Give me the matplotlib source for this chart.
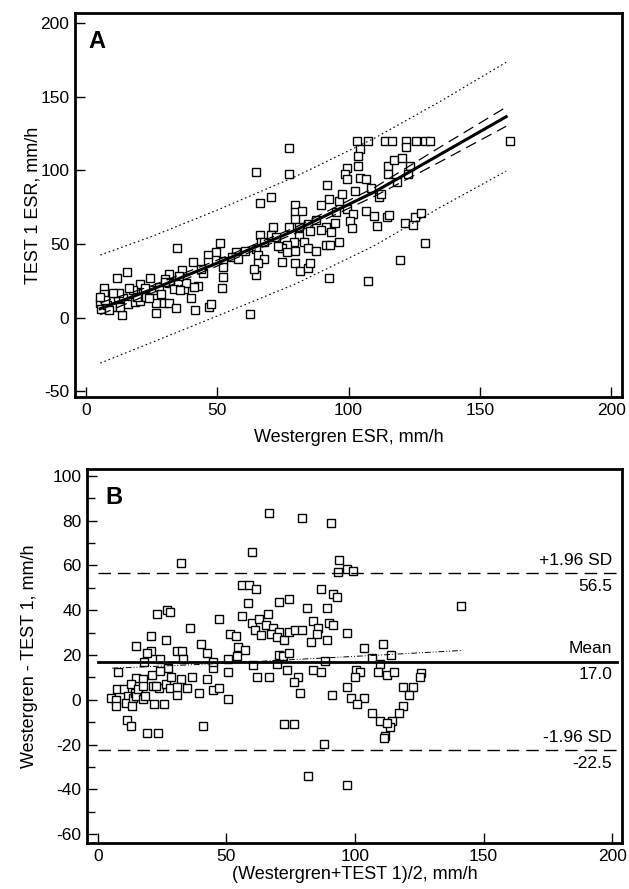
import matplotlib
matplotlib.use("Agg")
import matplotlib.pyplot as plt
from matplotlib.ticker import MultipleLocator

plt.rcParams['font.family'] = ['Liberation Sans', 'DejaVu Sans']
plt.rcParams['axes.unicode_minus'] = False

# ---------------- Panel A data: Westergren ESR vs TEST 1 ESR ----------------
a_x = [103.2, 107.5, 114, 116.6, 122, 125.7, 129.2, 131.2, 161.5, 104.5, 103.8, 122, 77.4,
       64.8, 77.4, 99.3, 103.6, 98.6, 99.3, 104.5, 106.8, 114.9, 117.5, 120.4, 114.9, 123.4,
       122.7, 111.6, 91.7, 92.5, 89.5, 96.4, 66.5, 70.6, 79.5, 79.5, 82.4, 79.5, 95.1, 99.3,
       101.9, 106.8, 109.7, 100.6, 101.5, 110.7, 114.6, 115.6, 94.7, 91.5, 89.5, 71.3, 77.4,
       81.1, 84.7, 85.2, 81.1, 83, 84.7, 79.1, 79.8, 76.5, 74.5, 73.2, 76.5, 74.5, 79.8, 81.7,
       84.7, 85.2, 91.5, 92.8, 96.4, 92.5, 107.4, 119.5, 129.2, 121.4, 124.7, 125.3, 127.5,
       66.5, 66.7, 68, 64.8, 65.4, 68, 65.7, 64.8, 62.6, 57, 52.4, 52.4, 52.4, 51.8, 50.9, 49.6,
       46.6, 46.6, 40.7, 34.8, 42.6, 40, 41.7, 46.9, 47.8, 15.7, 11.7, 24.4, 31.8, 30.3, 36.8,
       20.5, 17.9, 6.8, 6.8, 11.8, 14, 21.8, 25.7, 27.7, 32.2, 33.5, 37.2, 38.1, 41.3, 26.6,
       29.6, 31.8, 34.4, 26.6, 13.6, 5.5, 5.8, 9.4, 10.1, 13.1, 16, 18.6, 20.5, 23.1, 8.1,
       7.5, 12.5, 19.5, 22.5, 28.5, 35.5, 44.5, 55.5, 60.5, 70.5, 87.5, 93.5, 97.5, 102.5,
       108.5, 112.5, 118.5, 64, 58, 87.5, 72.5, 9, 16.5, 24, 30, 36, 44, 5.5, 10.5]
a_y = [119.8, 119.8, 119.8, 119.8, 119.8, 119.8, 119.8, 119.8, 119.8, 114.8, 109.5, 115.9, 115.5,
       98.9, 97.7, 101.8, 103, 97.7, 93.9, 95, 94.3, 103, 106.8, 108.6, 97.7, 103,
       97.7, 81.8, 89.8, 80.7, 76.6, 79.1, 78, 81.8, 76.6, 71.6, 72.7, 67, 71.6, 73.9,
       70.5, 72.7, 69.3, 65.9, 60.9, 62, 68.2, 69.8, 64.1, 61.4, 59.8, 61.8, 61.8,
       61.4, 63.6, 58.6, 55.7, 51.1, 47, 51.1, 45.5, 49.3, 47, 48.9, 44.3, 38, 37, 31.8,
       34, 37, 49.5, 49.5, 51.6, 26.8, 25, 39.1, 50.5, 64.3, 63.2, 68.2, 70.9,
       56.1, 51.6, 51.1, 46.6, 42.5, 39.8, 37, 28.9, 2.3, 44.8, 38.6, 34.1, 27.3, 19.8, 50.5, 44.8,
       42.5, 38, 38, 47, 21.6, 13.2, 5, 7.5, 9.1, 31.1, 26.8, 26.8, 29.5, 26.1, 32.5,
       22.7, 18.6, 19.8, 15.9, 14.3, 13, 16.4, 18.6, 21.1, 23.4, 19.3, 19.3, 23.4, 21.1, 10.2,
       9.8, 10.2, 6.8, 3, 1.8, 9.8, 6.1, 11.4, 7.5, 7.3, 9.5, 10.7, 11.4, 14.3, 8.4,
       12, 16.5, 14, 20, 16, 28, 30, 41, 45, 56, 66, 58, 84, 86,
       88, 84, 92, 33, 40, 45, 55, 5, 20, 13, 24, 19, 33, 14, 17]

# regression curve, 95% CI (dashed) and prediction limits (dotted)
fit_x = [5.5, 25, 50, 80, 110, 135, 160]
fit_y = [6, 19, 37, 59.5, 85.5, 111, 136.5]
ci_hi = [10, 21.5, 39, 61.5, 88.5, 116, 143]
ci_lo = [2, 16.5, 35, 57.5, 82.5, 106, 130]
pi_hi = [42.5, 55, 73, 96, 122, 147, 173.5]
pi_lo = [-31, -17, 1, 23, 49, 75, 99.5]

# ---------------- Panel B data: Bland-Altman ----------------
b_x = [66.4, 79.5, 90.5, 60, 32.2, 93.8, 93.3, 96.9, 99.3, 141.2, 56.2, 58.9, 61.6, 86.6, 91.5,
       92.9, 58.4, 70.5, 74.4, 81.5, 89.3, 23.1, 26.8, 28.2, 47, 35.8, 56.2, 66, 60, 62.7,
       61.3, 63.3, 65.4, 68, 67.4, 70.5, 69.7, 72.3, 74.5, 76.8, 79.5, 83.5, 85.5, 85.2,
       82.8, 89.8, 91.5, 89.3, 96.9, 51.3, 53.7, 40.1, 20.8, 26.4, 15, 20.8, 19.1, 30.9,
       32.9, 42.5, 54.4, 57.1, 54.2, 110.7, 103.4, 114.1, 106.7, 109.9, 70.5, 72.1, 74.4,
       88.5, 18.1, 24, 27.1, 33.2, 44.6, 44.9, 50.6, 60.4, 69.8, 7.7, 15, 17.7, 21.1, 24,
       21.5, 23.8, 26.4, 28.2, 30.9, 32.2, 34.5, 36.8, 42.5, 39.2, 44.9, 47.2, 50.6, 50.6,
       61.7, 66.4, 73.4, 77.8, 76.1, 78.5, 83.5, 86.9, 100.3, 101.9, 99.9, 109, 112.3, 115,
       125.8, 125.1, 96.9, 90.9, 98.5, 103.4, 100.9, 118.7, 122.4, 121.1, 118.7, 117, 106.7,
       109.7, 114.4, 113.7, 112.3, 111.7, 111.4, 72.5, 76.4, 87.9, 81.9, 96.9, 5, 7, 7.2,
       7.4, 10.1, 11.7, 11, 13, 13.7, 14.4, 13.3, 15, 15.7, 17.7, 17.7, 18.4, 21.7, 25.7,
       11.4, 12.8, 19.3, 23.4, 40.9, 30.9, 28.5, 22.5]
b_y = [83.4, 81.3, 79, 66.2, 61.2, 62.3, 57.1, 58.6, 57.4, 42, 51.4, 51.4, 49.6, 49.4, 47.2,
       46.1, 43.4, 43.8, 45, 41.1, 41.1, 38.3, 40.1, 39.3, 36, 32.2, 37.4, 38.3, 34.5, 36.3,
       31, 28.8, 33.3, 32.2, 29.2, 30.3, 28, 26.9, 30.3, 31, 31, 35.1, 32.1, 29.2,
       26, 34.5, 33.3, 26.9, 30, 29.2, 28.3, 25, 28.3, 26.9, 24.2, 22, 20.9, 22,
       22, 20.9, 23.5, 22.3, 19.4, 25, 23.2, 20, 18.5, 15.9, 20.2, 19.7, 20.9,
       17.1, 16.7, 18.2, 14.4, 18.2, 14.4, 16.7, 18.2, 15.6, 15.9, 12.2, 9.9, 9.4, 10.9, 12.9,
       6.1, 5.4, 6.9, 5.4, 2, 9.1, 5.4, 10.2, 9.1, 3.1, 4.3, 5.4, 12.2, 0.4,
       10.2, 10.2, 13.2, 10.2, 8.1, 3.1, 13.2, 12.2, 13.2, 12.2, 10.2, 12.2, 11.1, 12.2,
       11.8, 10.2, 5.8, 2, 0.8, 0.8, -1.7, 5.8, 5.8, 2, -2.9, -5.7, -5.7,
       -9.7, -9.7, -12, -10.2, -16.1, -17.3, -10.8, -10.8, -19.8, -33.9, -38, 0.8, 0, -2.9,
       4.9, 4.9, 1.6, -1.4, 6.9, 0.8, 3.1, -2.9, 1.6, 4.9, 6.1, 0.4, 1.9, -1.7, -1.7,
       -9, -11.7, -15, -15, -11.7, 5.8, 10, 6]

trend_x = [5.6, 40, 80, 110, 141.2]
trend_y = [14.1, 15.8, 18.2, 20.0, 22.0]

mean_diff = 17.0
upper_loa = 56.5
lower_loa = -22.5

# ---------------- Figure ----------------
W, H = 629, 889
fig = plt.figure(figsize=(W / 100, H / 100), dpi=100)


def px_axes(left, top, right, bottom):
    return fig.add_axes([left / W, 1 - bottom / H, (right - left) / W, (bottom - top) / H])


def style(ax):
    for s in ax.spines.values():
        s.set_linewidth(2.0)
    ax.tick_params(axis='both', which='both', direction='in', width=1.0, labelsize=12.5,
                   pad=4, colors='black')
    ax.tick_params(axis='both', which='major', length=7)
    ax.tick_params(axis='both', which='minor', length=6)


mk = dict(marker='s', linestyle='none', markersize=5.6, markerfacecolor='white',
          markeredgecolor='black', markeredgewidth=1.0)

# Panel A
A_L, A_T, A_R, A_B = 75, 13, 622, 397
axA = px_axes(A_L, A_T, A_R, A_B)
axA.plot(a_x, a_y, **mk, zorder=2)
axA.plot(fit_x, fit_y, color='black', lw=2.2, zorder=3)
axA.plot(fit_x, ci_hi, color='black', lw=0.9, linestyle=(0, (9, 5)), zorder=3)
axA.plot(fit_x, ci_lo, color='black', lw=0.9, linestyle=(0, (9, 5)), zorder=3)
axA.plot(fit_x, pi_hi, color='black', lw=0.8, linestyle=(0, (1.5, 2.5)), zorder=3)
axA.plot(fit_x, pi_lo, color='black', lw=0.8, linestyle=(0, (1.5, 2.5)), zorder=3)
axA.set_xlim(-4.1, 204.1)
axA.set_ylim(-54, 207)
axA.xaxis.set_major_locator(MultipleLocator(50))
axA.yaxis.set_major_locator(MultipleLocator(50))
style(axA)
axA.set_xlabel('Westergren ESR, mm/h', fontsize=13, labelpad=8)
axA.set_ylabel('TEST 1 ESR, mm/h', fontsize=13, va='center')
axA.yaxis.set_label_coords((33 - A_L) / (A_R - A_L), 0.5)
axA.text(0.025, 0.955, 'A', transform=axA.transAxes, fontsize=17, fontweight='bold',
         va='top', ha='left')

# Panel B
B_L, B_T, B_R, B_B = 87, 469, 622, 843
axB = px_axes(B_L, B_T, B_R, B_B)
axB.plot(b_x, b_y, **mk, zorder=2)
axB.plot(trend_x, trend_y, color='black', lw=0.7, linestyle=(0, (6, 2, 1, 2, 1, 2)), zorder=3)
axB.plot([0, 202], [mean_diff, mean_diff], color='black', lw=2.0, zorder=3)
axB.plot([0, 202], [upper_loa, upper_loa], color='black', lw=1.0, linestyle=(0, (9, 5)), zorder=3)
axB.plot([0, 202], [lower_loa, lower_loa], color='black', lw=1.0, linestyle=(0, (9, 5)), zorder=3)
axB.set_xlim(-4.2, 203.8)
axB.set_ylim(-64, 103.1)
axB.xaxis.set_major_locator(MultipleLocator(50))
axB.yaxis.set_major_locator(MultipleLocator(20))
axB.yaxis.set_minor_locator(MultipleLocator(10))
style(axB)
axB.set_xlabel('(Westergren+TEST 1)/2, mm/h', fontsize=13, labelpad=2)
axB.set_ylabel('Westergren - TEST 1, mm/h', fontsize=13, va='center')
axB.yaxis.set_label_coords((30 - B_L) / (B_R - B_L), 0.5)
axB.text(0.035, 0.955, 'B', transform=axB.transAxes, fontsize=17, fontweight='bold',
         va='top', ha='left')

lab = dict(ha='right', fontsize=12.5)
axB.text(200, upper_loa + 2.5, '+1.96 SD', va='bottom', **lab)
axB.text(200, upper_loa - 2.5, f'{upper_loa:.1f}', va='top', **lab)
axB.text(200, mean_diff + 2.5, 'Mean', va='bottom', **lab)
axB.text(200, mean_diff - 2.5, f'{mean_diff:.1f}', va='top', **lab)
axB.text(200, lower_loa + 2.5, '-1.96 SD', va='bottom', **lab)
axB.text(200, lower_loa - 2.5, f'{lower_loa:.1f}', va='top', **lab)

fig.savefig('out.png', dpi=100, facecolor='white')
